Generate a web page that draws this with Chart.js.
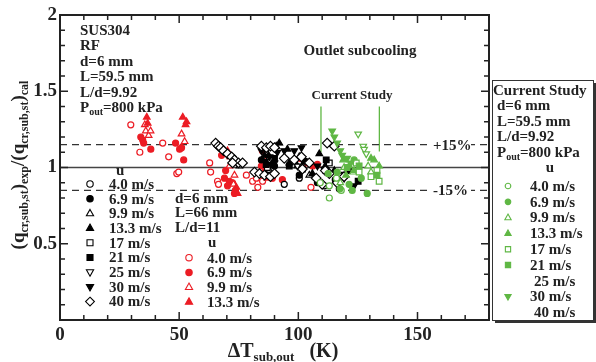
<!DOCTYPE html>
<html>
<head>
<meta charset="utf-8">
<script src="https://cdn.jsdelivr.net/npm/chart.js@4/dist/chart.umd.min.js"></script>
<style>
  html, body { margin: 0; padding: 0; background: #fff; }
  #wrap { width: 596px; height: 362px; }
</style>
</head>
<body>
<div id="wrap"><canvas id="graph1" width="596" height="362"></canvas></div>
<script>
/*
    ratio of measured to calculated CHF vs outlet subcooling
*/

// flow velocities (legend labels)
const speeds = ['4.0', '6.9', '9.9', '13.3', '17', '21', '25', '30', '40'];

// d=6 mm, L=66 mm, L/d=11 (red)
const red40 = [[29.7,1.28],[33.5,1.10],[43.1,1.16],[45.6,1.07],[49.0,0.96],[49.8,0.97],[62.8,1.03],[63.2,0.97],
    [66.1,0.91],[66.5,0.89],[78.2,0.95],[80.8,0.91],[82.4,0.93],[83.0,0.87],[85.0,0.91],[105.3,0.87]];
const red69 = [[33.9,1.20],[34.7,1.18],[35.1,1.16],[38.1,1.12],[48.5,1.16],[50.2,1.12],[51.0,1.13],[51.9,1.05],
    [67.8,1.08],[69.5,0.98],[69.0,0.93],[71.1,0.91],[72.4,0.90],[70.3,0.88],[73.6,0.85],[73.2,0.83],
    [84.9,1.11],[84.5,1.01],[89.1,0.93],[93.3,0.92],[100.8,1.06],[103.8,1.03],[108.0,1.02],[106.0,1.01]];
const red99 = [[35.6,1.28],[36.0,1.24],[37.2,1.21],[38.0,1.24],[51.0,1.22],[52.3,1.17],[71.1,1.01],[73.2,0.95],
    [72.8,0.89],[86.6,1.05]];
const red133 = [[36.4,1.33],[36.8,1.29],[51.5,1.33],[52.7,1.28],[53.1,1.30],[70.3,1.11],[71.5,1.07],[74.0,0.87],
    [74.5,0.83],[85.8,0.98],[87.0,0.93]];

// other studies (black)
const blk40 = [[94.1,0.89],[100.4,0.93],[110.9,0.88],[117.2,0.86]];
const blk69 = [[84.5,1.05],[90.0,1.01],[100.4,0.95],[108.0,0.90],[115.5,0.92]];
const blk99 = [[75.3,1.01],[87.9,0.98],[104.6,0.95]];
const blk133 = [[85.8,1.08],[87.5,1.08],[90.7,1.14],[92.0,1.16],[95.4,1.12],[96.2,1.03],[99.6,1.01],[100.4,1.07],
    [105.9,0.96],[108.8,1.09],[111.3,1.01],[115.1,0.98]];
const blk17 = [[87.0,1.00],[101.7,0.99],[113.0,1.03],[119.2,0.95]];
const blk21 = [[86.5,1.02],[89.0,1.05],[90.0,1.06],[96.2,1.01],[102.5,1.04],[111.7,1.05],[111.6,0.98],[121.3,0.98],[125.1,0.91]];
const blk25 = [[87.9,1.05],[99.6,1.01],[117.2,0.95]];
const blk30 = [[84.5,1.11],[86.0,1.04],[87.9,1.07],[88.5,1.02],[90.0,1.03],[91.2,1.10],[94.1,1.11],[98.3,1.11],
    [101.3,1.13],[108.0,1.01],[110.9,0.99],[119.2,0.93],[123.4,0.88]];
const blk400 = [[65.3,1.16],[66.5,1.14],[67.4,1.13],[68.6,1.11],[70.3,1.09],[72.0,1.07],[73.2,1.05],[74.9,1.03],
    [76.6,1.03],[72.4,1.03],[84.5,1.14],[86.6,1.13],[88.3,1.14],[90.0,1.13],[81.6,0.97],[83.7,0.96],[85.8,0.95],
    [88.3,0.94],[90.0,0.96],[94.1,1.06],[98.3,1.05],[101.3,1.07],[101.7,0.99],[104.6,1.03],[107.5,0.93],[110.0,0.89],
    [112.1,1.16],[115.1,1.14],[111.3,0.98],[113.0,0.96],[116.3,0.90],[119.2,0.94]];

// current study (green)
const grn40 = [[109.2,0.90],[113.0,0.88],[113.0,0.80],[118.0,0.85],[116.0,0.93]];
const grn69 = [[116.3,0.97],[121.3,0.89],[122.6,0.85],[126.4,0.93],[128.9,0.83],[117.5,0.86],[123.4,1.05],[112.5,0.96]];
const grn99 = [[119.2,1.00],[123.0,0.97],[129.3,1.01],[130.5,0.97],[117.6,0.90]];
const grn133 = [[118.8,1.05],[121.3,1.01],[130.5,1.06],[131.8,1.05],[133.9,1.01],[123.4,0.98],[120.0,0.95]];
const grn17 = [[124.3,1.03],[125.5,0.97],[133.0,0.98],[133.9,0.91],[130.5,0.94]];
const grn21 = [[120.5,1.00],[125.5,1.01],[133.0,0.95]];
const grn25 = [[125.1,1.22],[127.2,1.14],[127.6,1.12],[128.5,1.09]];
const grn30 = [[114.2,1.24],[115.1,1.20],[116.3,1.16],[117.6,1.11],[118.4,1.08],[120.5,1.06],[122.0,1.03]];

// reference lines
const ratioOne = [[0,1],[180,1]];
const plus15 = [[0,1.15],[180,1.15]];
const minus15 = [[0,0.85],[180,0.85]];
const csLine1 = [[109.5,1.10],[109.5,1.40]];
const csLine2 = [[134,1.105],[134,1.40]];

const RED = '#ec1c24', GREEN = '#5fb744', BLACK = '#000';
const FONT = '"Liberation Serif", "DejaVu Serif", serif';

// marker style for each velocity index
const marks = [
    {style: 'circle', open: true, r: 3, rot: 0},
    {style: 'circle', open: false, r: 3, rot: 0},
    {style: 'triangle', open: true, r: 3.8, rot: 0},
    {style: 'triangle', open: false, r: 3.8, rot: 0},
    {style: 'rect', open: true, r: 4, rot: 0},
    {style: 'rect', open: false, r: 4, rot: 0},
    {style: 'triangle', open: true, r: 3.8, rot: 180},
    {style: 'triangle', open: false, r: 3.8, rot: 180},
    {style: 'rectRot', open: true, r: 4.8, rot: 0}
];

function series(label, pts, color, k) {
    const m = marks[k];
    return {
        label: label,
        data: pts.map(p => ({x: p[0], y: p[1]})),
        showLine: false,
        pointStyle: m.style,
        pointRadius: m.r,
        pointRotation: m.rot,
        pointBorderWidth: 1.2,
        pointBackgroundColor: m.open ? '#fff' : color,
        pointBorderColor: color
    };
}

function refLine(pts, color, width, dash) {
    return {
        data: pts.map(p => ({x: p[0], y: p[1]})),
        showLine: true,
        pointRadius: 0,
        borderColor: color,
        borderWidth: width,
        borderDash: dash
    };
}

// first = drawn on top
const datasets = [
    series('g30', grn30, GREEN, 7), series('g25', grn25, GREEN, 6), series('g21', grn21, GREEN, 5),
    series('g17', grn17, GREEN, 4), series('g13.3', grn133, GREEN, 3), series('g9.9', grn99, GREEN, 2),
    series('g6.9', grn69, GREEN, 1), series('g4.0', grn40, GREEN, 0),
    series('b40', blk400, BLACK, 8), series('b30', blk30, BLACK, 7), series('b25', blk25, BLACK, 6),
    series('b21', blk21, BLACK, 5), series('b17', blk17, BLACK, 4), series('b13.3', blk133, BLACK, 3),
    series('b9.9', blk99, BLACK, 2), series('b6.9', blk69, BLACK, 1), series('b4.0', blk40, BLACK, 0),
    series('r13.3', red133, RED, 3), series('r9.9', red99, RED, 2), series('r6.9', red69, RED, 1),
    series('r4.0', red40, RED, 0),
    refLine(ratioOne, '#444', 1.5, []), refLine(plus15, '#333', 1.3, [7, 5]),
    refLine(minus15, '#333', 1.3, [7, 5]),
    refLine(csLine1, GREEN, 1.3, []), refLine(csLine2, GREEN, 1.3, [])
];

// text with subscripts: parts = [[text, isSub], ...]
function richWidth(ctx, parts, size, subSize) {
    let w = 0;
    parts.forEach(p => {
        ctx.font = 'bold ' + (p[1] ? subSize : size) + 'px ' + FONT;
        w += ctx.measureText(p[0]).width;
    });
    return w;
}
function drawRich(ctx, parts, x, y, size, subSize, align) {
    let w = richWidth(ctx, parts, size, subSize);
    let cx = align === 'center' ? x - w / 2 : x;
    ctx.textAlign = 'left';
    ctx.textBaseline = 'alphabetic';
    parts.forEach(p => {
        ctx.font = 'bold ' + (p[1] ? subSize : size) + 'px ' + FONT;
        ctx.fillText(p[0], cx, p[1] ? y + size * 0.22 : y);
        cx += ctx.measureText(p[0]).width;
    });
}
function drawMark(ctx, k, color, x, y, r) {
    const m = marks[k];
    ctx.save();
    ctx.fillStyle = m.open ? '#fff' : color;
    ctx.strokeStyle = color;
    ctx.lineWidth = 1.1;
    ctx.translate(x, y);
    ctx.beginPath();
    if (m.style === 'circle') {
        ctx.arc(0, 0, r * 0.8, 0, Math.PI * 2);
    } else if (m.style === 'rect') {
        ctx.rect(-r * 0.75, -r * 0.75, r * 1.5, r * 1.5);
    } else if (m.style === 'rectRot') {
        ctx.moveTo(0, -r * 1.1); ctx.lineTo(r * 1.1, 0); ctx.lineTo(0, r * 1.1); ctx.lineTo(-r * 1.1, 0);
    } else {
        const s = m.rot ? -1 : 1;
        ctx.moveTo(0, -s * r); ctx.lineTo(r * 0.9, s * r * 0.6); ctx.lineTo(-r * 0.9, s * r * 0.6);
    }
    ctx.closePath();
    ctx.fill();
    ctx.stroke();
    ctx.restore();
}

const decor = {
    id: 'decor',
    afterDatasetsDraw(chart) {
        const ctx = chart.ctx, a = chart.chartArea;
        const xs = chart.scales.x, ys = chart.scales.y;
        ctx.save();

        // frame + inward ticks on all sides
        ctx.strokeStyle = '#222';
        ctx.lineWidth = 2;
        ctx.strokeRect(a.left, a.top, a.right - a.left, a.bottom - a.top);
        ctx.lineWidth = 1.5;
        ctx.beginPath();
        xs.ticks.forEach(t => {
            const px = xs.getPixelForValue(t.value);
            const len = Math.abs(t.value % 50) < 1e-6 ? 8 : 5;
            ctx.moveTo(px, a.bottom); ctx.lineTo(px, a.bottom - len);
            ctx.moveTo(px, a.top); ctx.lineTo(px, a.top + len);
        });
        ys.ticks.forEach(t => {
            const py = ys.getPixelForValue(t.value);
            const len = Math.abs(t.value * 2 - Math.round(t.value * 2)) < 1e-6 ? 8 : 5;
            ctx.moveTo(a.left, py); ctx.lineTo(a.left + len, py);
            ctx.moveTo(a.right, py); ctx.lineTo(a.right - len, py);
        });
        ctx.stroke();

        ctx.fillStyle = '#222';
        // +-15% labels on the dashed lines
        ctx.font = 'bold 15px ' + FONT;
        ctx.textBaseline = 'middle';
        ctx.textAlign = 'left';
        [['+15%', 1.15], ['-15%', 0.85]].forEach(l => {
            const py = ys.getPixelForValue(l[1]);
            ctx.fillStyle = '#fff';
            ctx.fillRect(431, py - 7, 40, 14);
            ctx.fillStyle = '#222';
            ctx.fillText(l[0], 433, py + 1);
        });

        // top-left info block
        ctx.font = 'bold 15px ' + FONT;
        ctx.textBaseline = 'alphabetic';
        ['SUS304', 'RF', 'd=6 mm', 'L=59.5 mm', 'L/d=9.92'].forEach((s, i) => {
            ctx.fillText(s, 80, 35 + i * 15.4);
        });
        drawRich(ctx, [['P', 0], ['out', 1], ['=800 kPa', 0]], 80, 112, 15, 10, 'left');

        ctx.textAlign = 'center';
        ctx.font = 'bold 15px ' + FONT;
        ctx.fillText('Outlet subcooling', 360, 55);
        ctx.font = 'bold 13px ' + FONT;
        ctx.fillText('Current Study', 352, 99);

        // black legend
        ctx.font = 'bold 15px ' + FONT;
        ctx.textAlign = 'left';
        ctx.textBaseline = 'middle';
        ctx.fillText('u', 116, 171);
        speeds.forEach((s, i) => {
            const py = 184 + i * 14.7;
            drawMark(ctx, i, BLACK, 90, py, 4);
            ctx.fillStyle = '#222';
            ctx.fillText(s + ' m/s', 109, py + 1);
        });
        // red legend
        ['d=6 mm', 'L=66 mm', 'L/d=11'].forEach((s, i) => {
            ctx.fillText(s, 175, 198.7 + i * 14.7);
        });
        ctx.fillText('u', 208, 243);
        speeds.slice(0, 4).forEach((s, i) => {
            const py = 257.7 + i * 14.7;
            drawMark(ctx, i, RED, 189, py, 4);
            ctx.fillStyle = '#222';
            ctx.fillText(s + ' m/s', 207, py + 1);
        });

        // current study legend box
        ctx.fillStyle = '#333';
        ctx.fillRect(495, 83, 101, 240);
        ctx.fillStyle = '#fff';
        ctx.fillRect(492, 80, 101, 240);
        ctx.strokeStyle = '#333';
        ctx.lineWidth = 1;
        ctx.strokeRect(492.5, 80.5, 101, 240);
        ctx.fillStyle = '#222';
        ctx.font = 'bold 15px ' + FONT;
        ctx.fillText('Current Study', 493, 91);
        ['d=6 mm', 'L=59.5 mm', 'L/d=9.92'].forEach((s, i) => {
            ctx.fillText(s, 497, 106.5 + i * 15.3);
        });
        drawRich(ctx, [['P', 0], ['out', 1], ['=800 kPa', 0]], 497, 157, 15, 10, 'left');
        ctx.font = 'bold 15px ' + FONT;
        ctx.textBaseline = 'middle';
        ctx.textAlign = 'center';
        ctx.fillText('u', 550, 168);
        ctx.textAlign = 'left';
        speeds.forEach((s, i) => {
            const py = 186 + i * 15.8;
            if (i !== 6 && i !== 8) {
                drawMark(ctx, i, GREEN, 508, py, 3.5);
                ctx.fillStyle = '#222';
                ctx.fillText(s + ' m/s', 530, py + 1);
            } else {
                ctx.fillStyle = '#222';
                ctx.fillText(s + ' m/s', 534, py + 1);
            }
        });

        // axis titles
        drawRich(ctx, [['\u0394T', 0], ['sub,out', 1], ['   (K)', 0]], 283, 357, 20, 13, 'center');
        ctx.translate(24, 165);
        ctx.rotate(-Math.PI / 2);
        drawRich(ctx, [['(q', 0], ['cr,sub,st', 1], [')', 0], ['exp', 1], ['/(q', 0], ['cr,sub,st', 1], [')', 0], ['cal', 1]],
            0, 0, 19, 12, 'center');
        ctx.restore();
    }
};

const g1 = new Chart('graph1', {
    type: 'scatter',
    data: { datasets: datasets },
    options: {
        responsive: false,
        animation: false,
        events: [],
        layout: { padding: { left: 20, right: 107, top: 15, bottom: 0 } },
        plugins: { legend: { display: false }, tooltip: { enabled: false } },
        scales: {
            x: {
                type: 'linear', min: 0, max: 180,
                grid: { display: false, drawTicks: false },
                border: { display: false },
                afterFit: s => { s.height = 42; },
                ticks: {
                    stepSize: 10, autoSkip: false, maxRotation: 0, padding: 4, color: '#222',
                    font: { family: FONT, size: 19, weight: 'bold' },
                    callback: v => (v % 50 === 0 ? v : '')
                }
            },
            y: {
                type: 'linear', min: 0, max: 2,
                grid: { display: false, drawTicks: false },
                border: { display: false },
                afterFit: s => { s.width = 40; },
                ticks: {
                    stepSize: 0.1, autoSkip: false, padding: 3, color: '#222',
                    font: { family: FONT, size: 19, weight: 'bold' },
                    callback: v => {
                        const h = Math.round(v * 2);
                        if (h === 0 || Math.abs(v * 2 - h) > 1e-6) return '';
                        return String(h / 2);
                    }
                }
            }
        }
    },
    plugins: [decor]
});
</script>
</body>
</html>
